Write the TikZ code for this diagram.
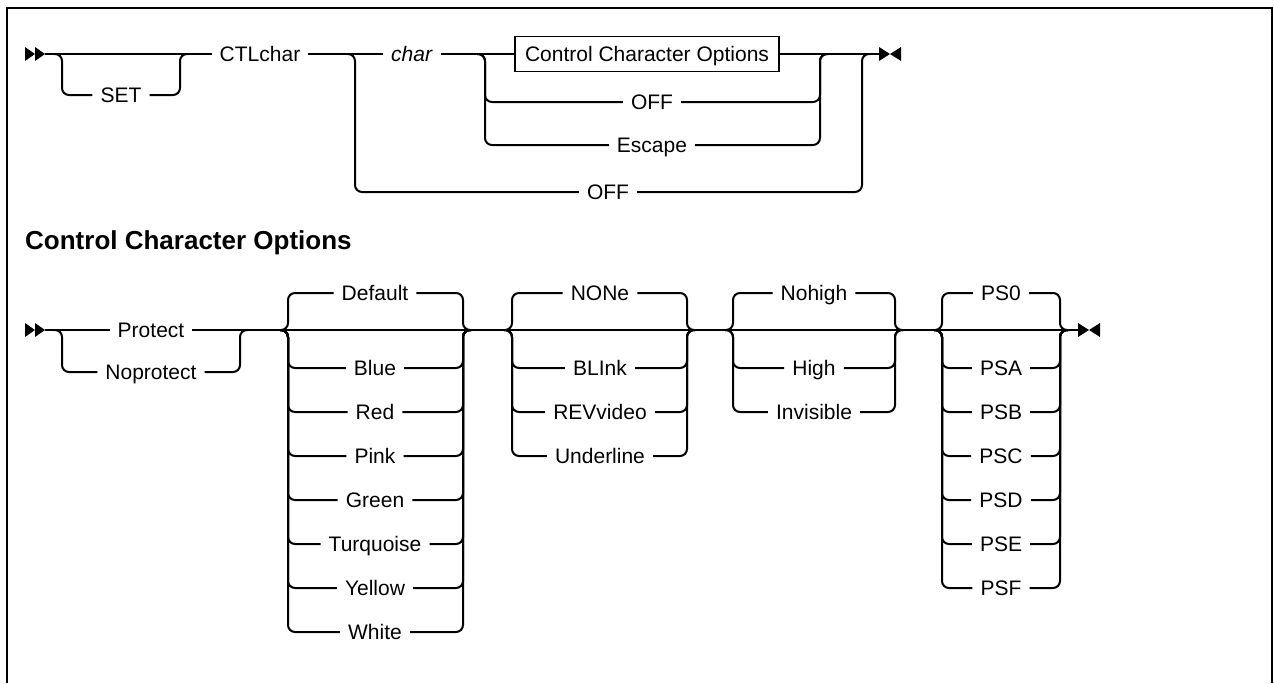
\documentclass[tikz,border=0pt]{standalone}
\usepackage{fontspec}
\setmainfont{Liberation Sans}
\usetikzlibrary{calc}

\begin{document}
\begin{tikzpicture}[
      x=1pt, y=-1pt,
      every node/.style={font=\fontsize{21}{25}\selectfont},
      kw/.style={inner xsep=8pt, inner ysep=0pt, text height=15pt, text depth=0pt},
      obox/.style={draw, line width=1.5pt, minimum height=35pt, inner xsep=10pt,
                   inner ysep=0pt, text height=15pt, text depth=0pt},
      rail/.style={line width=2pt, rounded corners=7pt},
      head/.style={font=\fontsize{26}{31}\selectfont\bfseries, anchor=west, inner sep=0pt},
    ]
    \useasboundingbox (0,0) rectangle (1274,683);

    % --- frame ---
    \draw[line width=2pt] (7,683) -- (7,8) -- (1272,8) -- (1272,683);

    % --- SET CTLchar ---
    \coordinate (st1) at (45,54);
    \coordinate (en1) at (879,54);
    \coordinate (sL) at (62,54);  \coordinate (sR) at (180,54);
    \coordinate (oL) at (355,54); \coordinate (oR) at (862,54);
    \coordinate (iL) at (485,54); \coordinate (iR) at (820,54);

    \node[kw] (set) at (121,95) {SET};
    \node[kw] (ctl) at (260,54) {CTLchar};
    \node[kw] (chr) at (412,54) {\textit{char}};
    \node[obox] (cco) at (647,54) {Control Character Options};
    \node[kw] (off1) at (652,102) {OFF};
    \node[kw] (esc) at (652,145) {Escape};
    \node[kw] (off2) at (608,192) {OFF};

    \draw[rail] (st1) -- (ctl.west);
    \draw[rail] (ctl.east) -- (chr.west);
    \draw[rail] (chr.east) -- (cco.west);
    \draw[rail] (cco.east) -- (en1);

    \foreach \n/\l/\r in {set/sL/sR, off1/iL/iR, esc/iL/iR, off2/oL/oR} {
      \draw[rail] ($(\l)+(-8,0)$) -| (\n.west -| \l) -- (\n.west);
      \draw[rail] (\n.east) -| (\r) -- ++(8,0);
    }

    % --- Control Character Options ---
    \node[head] (title) at (25,243) {Control Character Options};

    \coordinate (st2) at (45,330);
    \coordinate (en2) at (1078,330);
    \coordinate (pL) at (62,330);  \coordinate (pR) at (240,330);
    \coordinate (cL) at (288,330); \coordinate (cR) at (463,330);
    \coordinate (nL) at (512,330); \coordinate (nR) at (687,330);
    \coordinate (hL) at (733,330); \coordinate (hR) at (895,330);
    \coordinate (qL) at (942,330); \coordinate (qR) at (1060,330);

    \node[kw] (prot) at (151,330) {Protect};
    \node[kw] (noprot) at (151,372) {Noprotect};
    \draw[rail] (st2) -- (prot.west);
    \draw[rail] (prot.east) -- (en2);
    \draw[rail] ($(pL)+(-8,0)$) -| (noprot.west -| pL) -- (noprot.west);
    \draw[rail] (noprot.east) -| (pR) -- ++(8,0);

    % colours
    \foreach \t [count=\i from 0] in {Default,Blue,Red,Pink,Green,Turquoise,Yellow,White} {
      \pgfmathsetmacro\yy{\i==0 ? 293 : 324+44*\i}
      \node[kw] (col\i) at (375,\yy) {\t};
      \draw[rail] ($(cL)+(-8,0)$) -| (col\i.west -| cL) -- (col\i.west);
      \draw[rail] (col\i.east) -| (cR) -- ++(8,0);
    }

    % extended attributes
    \foreach \t [count=\i from 0] in {NONe,BLInk,REVvideo,Underline} {
      \pgfmathsetmacro\yy{\i==0 ? 293 : 324+44*\i}
      \node[kw] (ext\i) at (600,\yy) {\t};
      \draw[rail] ($(nL)+(-8,0)$) -| (ext\i.west -| nL) -- (ext\i.west);
      \draw[rail] (ext\i.east) -| (nR) -- ++(8,0);
    }

    % highlighting
    \foreach \t [count=\i from 0] in {Nohigh,High,Invisible} {
      \pgfmathsetmacro\yy{\i==0 ? 293 : 324+44*\i}
      \node[kw] (hil\i) at (814,\yy) {\t};
      \draw[rail] ($(hL)+(-8,0)$) -| (hil\i.west -| hL) -- (hil\i.west);
      \draw[rail] (hil\i.east) -| (hR) -- ++(8,0);
    }

    % symbol sets
    \foreach \t [count=\i from 0] in {PS0,PSA,PSB,PSC,PSD,PSE,PSF} {
      \pgfmathsetmacro\yy{\i==0 ? 293 : 324+44*\i}
      \node[kw] (ps\i) at (1001,\yy) {\t};
      \draw[rail] ($(qL)+(-8,0)$) -| (ps\i.west -| qL) -- (ps\i.west);
      \draw[rail] (ps\i.east) -| (qR) -- ++(8,0);
    }

    % --- start and end marks ---
    \foreach \p in {st1,st2} {
      \fill (\p) ++(-20,-7) -- ++(10,7) -- ++(-10,7) -- cycle;
      \fill (\p) ++(-10,-7) -- ++(10,7) -- ++(-10,7) -- cycle;
    }
    \foreach \p in {en1,en2} {
      \fill (\p) ++(0,-7) -- ++(11,7) -- ++(-11,7) -- cycle;
      \fill (\p) ++(22,-7) -- ++(-11,7) -- ++(11,7) -- cycle;
    }
  \end{tikzpicture}
\end{document}
